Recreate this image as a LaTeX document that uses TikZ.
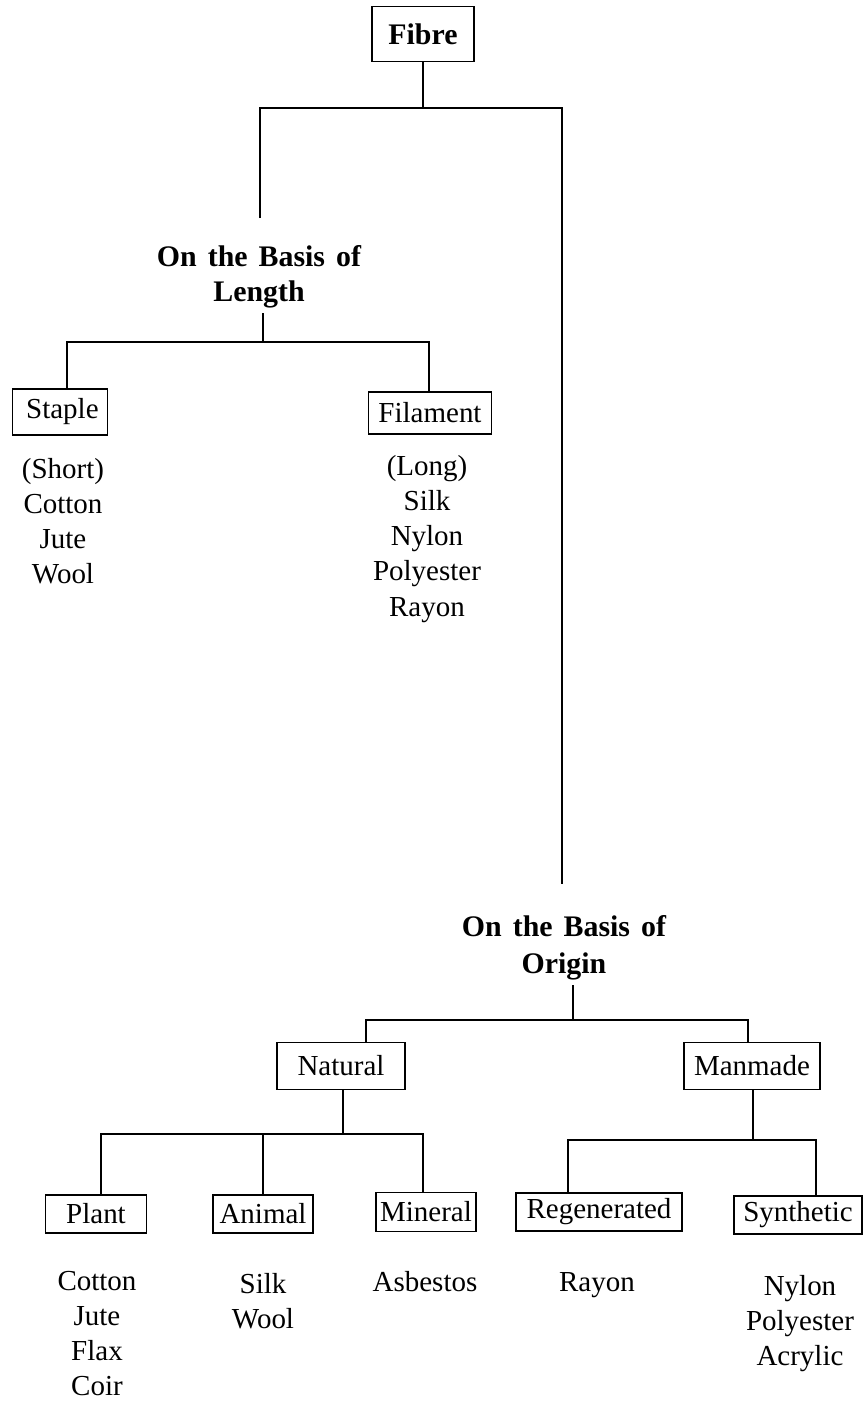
\documentclass[tikz,border=0pt]{standalone}
\usepackage{fontspec}
\setmainfont{Liberation Serif}
\usepackage{tikz}
\newcommand\basisfont{\fontsize{17}{20}\selectfont\bfseries\spaceskip 6.3pt\relax}
\tikzset{
  wire/.style={line width=1.1pt},
  box/.style={draw, line width=1.1pt, inner sep=0pt, font=\fontsize{16.5}{20}\selectfont},
  head/.style={align=center, inner sep=0pt, anchor=north, font=\basisfont},
  items/.style={align=center, inner sep=0pt, anchor=north, font=\fontsize{16.5}{20}\selectfont}
}

\begin{document}
\begin{tikzpicture}[x=0.02cm, y=-0.02cm]
\useasboundingbox (0,0) rectangle (863,1401);

% top of the tree
\node[box, minimum width=2.04cm, minimum height=1.10cm, font=\fontsize{17}{20}\selectfont\bfseries] (fibre) at (423,34) {Fibre};
\coordinate (fibreHub) at (423,108);
\coordinate (lenTop) at (260,218);
\coordinate (oriTop) at (562,884);
\draw[wire] (fibre.south) -- (fibreHub);
\draw[wire] (lenTop) |- (fibreHub) -| (oriTop);

% on the basis of length
\node[head] (lenTitle) at (259,245) {On the Basis of\\Length};
\coordinate (lenStem) at (263,313);
\coordinate (lenHub) at (263,342);
\node[box, minimum width=1.90cm, minimum height=0.92cm] (staple) at (60,412) {\,Staple};
\node[box, minimum width=2.46cm, minimum height=0.84cm] (filament) at (430,413) {Filament};
\draw[wire] (lenStem) -- (lenHub);
\draw[wire] (staple.north -| 67,0) |- (lenHub) -| (filament.north -| 429,0);
\node[items] (stapleList) at (63,458) {(Short)\\Cotton\\Jute\\Wool};
\node[items] (filamentList) at (427,455) {(Long)\\Silk\\Nylon\\Polyester\\Rayon};

% on the basis of origin
\node[head] (oriTitle) at (564,915) {On the Basis of\\[1pt]Origin};
\coordinate (oriStem) at (573,985);
\coordinate (oriHub) at (573,1020);
\node[box, minimum width=2.56cm, minimum height=0.94cm] (natural) at (341,1066) {Natural};
\node[box, minimum width=2.72cm, minimum height=0.94cm] (manmade) at (752,1066) {Manmade};
\draw[wire] (oriStem) -- (oriHub);
\draw[wire] (natural.north -| 366,0) |- (oriHub) -| (manmade.north -| 748,0);

% natural fibres
\coordinate (natHub) at (343,1134);
\node[box, minimum width=2.02cm, minimum height=0.76cm] (plant) at (96,1214) {Plant};
\node[box, minimum width=2.00cm, minimum height=0.76cm] (animal) at (263,1214) {Animal};
\node[box, minimum width=2.00cm, minimum height=0.78cm] (mineral) at (426,1212) {Mineral};
\draw[wire] (natural.south -| natHub) -- (natHub);
\draw[wire] (plant.north -| 101,0) |- (natHub) -| (mineral.north -| 423,0);
\draw[wire] (animal.north) -- (animal.north |- natHub);
\node[items] (plantList) at (97,1271) {Cotton\\Jute\\Flax\\Coir};
\node[items] (animalList) at (263,1273) {Silk\\Wool};
\node[items] (mineralList) at (425,1271) {Asbestos};

% manmade fibres
\coordinate (manHub) at (753,1140);
\node[box, minimum width=3.32cm, minimum height=0.76cm] (regen) at (599,1212) {Regenerated};
\node[box, minimum width=2.56cm, minimum height=0.76cm] (synth) at (798,1215) {Synthetic};
\draw[wire] (manmade.south -| manHub) -- (manHub);
\draw[wire] (regen.north -| 568,0) |- (manHub) -| (synth.north -| 816,0);
\node[items] (regenList) at (597,1272) {Rayon};
\node[items] (synthList) at (800,1275) {Nylon\\Polyester\\Acrylic};
\end{tikzpicture}
\end{document}
